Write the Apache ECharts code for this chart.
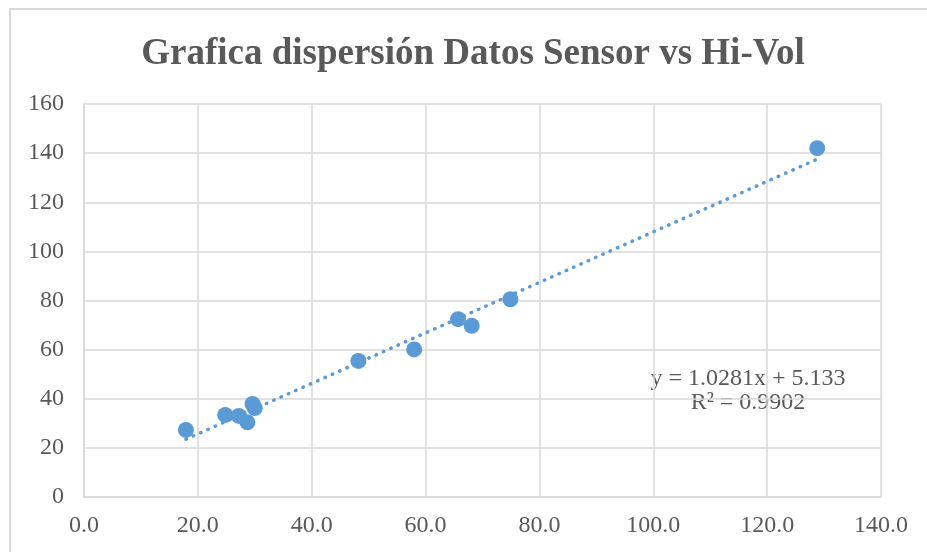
<!DOCTYPE html>
<html>
<head>
<meta charset="utf-8">
<script src="https://cdn.jsdelivr.net/npm/echarts@6/dist/echarts.min.js"></script>
<style>
  html, body { margin: 0; padding: 0; background: #ffffff; }
  #chart { width: 927px; height: 552px; }
</style>
</head>
<body>
<div id="chart"></div>
<script>
// Sensor readings (x) against Hi-Vol reference readings (y)
var sensorValues = [17.9, 24.8, 27.2, 28.7, 29.6, 30.0, 48.2, 58.0, 65.7, 68.1, 74.9, 128.8];
var hiVolValues  = [27.3, 33.4, 33.0, 30.4, 37.9, 36.2, 55.4, 60.1, 72.4, 69.7, 80.5, 142.0];

// Linear trendline coefficients as stated in the annotation
var trendSlope = 1.0281;
var trendIntercept = 5.133;
var equationLines = ['y = 1.0281x + 5.133', 'R\u00B2 = 0.9902'];

var titleText = 'Grafica dispersi\u00F3n Datos Sensor vs Hi-Vol';

var points = sensorValues.map(function (x, i) { return [x, hiVolValues[i]]; });
var xMin = Math.min.apply(null, sensorValues);
var xMax = Math.max.apply(null, sensorValues);
var trendPoints = [
  [xMin, trendSlope * xMin + trendIntercept],
  [xMax, trendSlope * xMax + trendIntercept]
];

var serif = '"Liberation Serif", "Times New Roman", serif';
var blue = '#5b9bd5';
var gridColor = '#d9d9d9';
var textColor = '#595959';

var chart = echarts.init(document.getElementById('chart'), null, { renderer: 'canvas' });
chart.setOption({
  animation: false,
  backgroundColor: '#ffffff',
  grid: { left: 84, right: 46, top: 104, bottom: 55 },
  xAxis: {
    type: 'value',
    min: 0, max: 140, interval: 20,
    axisLine: { show: true, lineStyle: { color: gridColor, width: 1.5 } },
    axisTick: { show: false },
    splitLine: { show: true, lineStyle: { color: gridColor, width: 1.5 } },
    axisLabel: {
      color: textColor, fontFamily: serif, fontSize: 24, margin: 17,
      formatter: function (v) { return v.toFixed(1); }
    }
  },
  yAxis: {
    type: 'value',
    min: 0, max: 160, interval: 20,
    axisLine: { show: true, lineStyle: { color: gridColor, width: 1.5 } },
    axisTick: { show: false },
    splitLine: { show: true, lineStyle: { color: gridColor, width: 1.5 } },
    axisLabel: { color: textColor, fontFamily: serif, fontSize: 24, margin: 20 }
  },
  series: [
    {
      name: 'Lineal',
      type: 'line',
      data: trendPoints,
      symbol: 'none',
      z: 2,
      lineStyle: { color: blue, width: 3.5, type: [0.5, 7.5], cap: 'round' },
      silent: true
    },
    {
      name: 'Hi-Vol',
      type: 'scatter',
      data: points,
      symbol: 'circle',
      symbolSize: 16,
      z: 3,
      itemStyle: { color: blue, opacity: 1 }
    }
  ],
  graphic: [
    {
      type: 'rect',
      shape: { x: 10, y: 9, width: 960, height: 600 },
      style: { fill: 'none', stroke: gridColor, lineWidth: 2 },
      silent: true
    },
    {
      type: 'text',
      style: {
        x: 473, y: 54, text: titleText,
        fill: textColor, font: 'bold 37px ' + serif,
        textAlign: 'center', textVerticalAlign: 'middle'
      }
    },
    {
      type: 'text',
      style: {
        x: 748, y: 379, text: equationLines[0],
        fill: textColor, font: '24px ' + serif,
        textAlign: 'center', textVerticalAlign: 'middle'
      }
    },
    {
      type: 'text',
      style: {
        x: 748, y: 403, text: equationLines[1],
        fill: textColor, font: '24px ' + serif,
        textAlign: 'center', textVerticalAlign: 'middle'
      }
    }
  ]
});
</script>
</body>
</html>
